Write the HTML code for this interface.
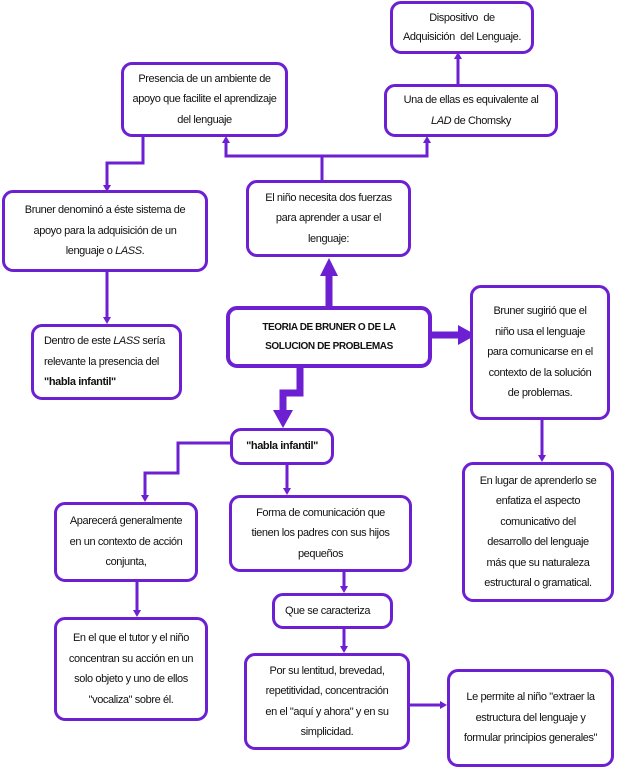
<!DOCTYPE html>
<html><head><meta charset="utf-8"><style>
body{margin:0;width:618px;height:770px;background:#fff;position:relative;overflow:hidden;font-family:"Liberation Sans",sans-serif;}
.b{position:absolute;box-sizing:border-box;border:3px solid #6d1fd2;border-radius:11px;background:#fff;display:flex;align-items:center;justify-content:center;text-align:center;font-size:11px;line-height:20.5px;color:#111;letter-spacing:-0.4px;padding:2px 6px;}
.b>span{display:block;width:100%;}
svg{position:absolute;left:0;top:0;}
i{font-style:italic}
</style></head><body>
<svg width="618" height="770">
<g stroke="#6d1fd2" stroke-width="3" fill="none">
<path d="M458 84V56"/>
<path d="M322 180V156H226V140M322 156H427V140"/>
<path d="M143 137V163H107V188"/>
<path d="M107 272V320"/>
<path d="M542 420V458"/>
<path d="M230 443H178V473H145V498"/>
<path d="M287 465V491"/>
<path d="M137 582V613"/>
<path d="M344 572V589"/>
<path d="M344 629V649"/>
<path d="M410 705H443"/>
</g>
<g fill="#6d1fd2">
<path d="M458 52l-4 7h8z"/>
<path d="M226 136l-4 7h8z"/><path d="M427 136l-4 7h8z"/>
<path d="M107 192l-4-7h8z"/>
<path d="M107 324l-4-7h8z"/>
<path d="M542 462l-4-7h8z"/>
<path d="M145 502l-4-7h8z"/>
<path d="M287 495l-4-7h8z"/>
<path d="M137 617l-4-7h8z"/>
<path d="M344 593l-4-7h8z"/><path d="M344 653l-4-7h8z"/>
<path d="M447 705l-7-4v8z"/>
</g>
<g stroke="#6d1fd2" stroke-width="7" fill="none">
<path d="M329 307V275"/>
<path d="M432 335H458"/>
<path d="M300 368V393H283V410"/>
</g>
<g fill="#6d1fd2">
<path d="M329 258l-9 18h18z"/>
<path d="M476 335l-18-10v20z"/>
<path d="M283 428l-10-18h20z"/>
</g>
</svg>
<div class="b" style="left:390px;top:1px;width:144px;height:53px;line-height:19px"><span>Dispositivo &nbsp;de<br>Adquisición &nbsp;del Lenguaje.</span></div>
<div class="b" style="left:121px;top:62px;width:167px;height:75px"><span>Presencia de un ambiente de apoyo que facilite el aprendizaje del lenguaje</span></div>
<div class="b" style="left:384px;top:84px;width:174px;height:53px"><span>Una de ellas es equivalente al<br><i>LAD</i>&nbsp;de Chomsky</span></div>
<div class="b" style="left:2px;top:190px;width:206px;height:82px;padding:2px 12px"><span>Bruner denominó a éste sistema de apoyo para la adquisición de un lenguaje o <i>LASS</i>.</span></div>
<div class="b" style="left:246px;top:180px;width:165px;height:77px;padding:2px 12px"><span>El niño necesita dos fuerzas para aprender a usar el lenguaje:</span></div>
<div class="b" style="left:31px;top:324px;width:151px;height:76px;text-align:left;padding-left:10px"><span>Dentro de este <i>LASS</i>&nbsp;sería relevante la presencia del <b>"habla infantil"</b></span></div>
<div class="b" style="left:226px;top:306px;width:206px;height:62px;border-width:4px;font-weight:bold;font-size:10px;line-height:19px;padding:2px 12px"><span>TEORIA DE BRUNER O DE LA SOLUCION DE PROBLEMAS</span></div>
<div class="b" style="left:470px;top:285px;width:140px;height:135px;padding:2px 14px"><span>Bruner sugirió que el niño usa el lenguaje para comunicarse en el contexto de la solución de problemas.</span></div>
<div class="b" style="left:230px;top:428px;width:104px;height:37px;font-weight:bold"><span>"habla infantil"</span></div>
<div class="b" style="left:54px;top:502px;width:144px;height:80px;padding:2px 8px"><span>Aparecerá generalmente en un contexto de acción conjunta,</span></div>
<div class="b" style="left:229px;top:495px;width:183px;height:77px;padding:2px 16px"><span>Forma de comunicación que tienen los padres con sus hijos pequeños</span></div>
<div class="b" style="left:462px;top:462px;width:152px;height:140px;padding:2px 12px"><span>En lugar de aprenderlo se enfatiza el aspecto comunicativo del desarrollo del lenguaje más que su naturaleza estructural o gramatical.</span></div>
<div class="b" style="left:272px;top:593px;width:121px;height:36px;text-align:left;padding-left:10px"><span>Que se caracteriza</span></div>
<div class="b" style="left:54px;top:617px;width:154px;height:104px;padding:2px 10px"><span>En el que el tutor y el niño concentran su acción en un solo objeto y uno de ellos "vocaliza" sobre él.</span></div>
<div class="b" style="left:244px;top:653px;width:166px;height:97px;padding:2px 12px"><span>Por su lentitud, brevedad, repetitividad, concentración en el "aquí y ahora" y en su simplicidad.</span></div>
<div class="b" style="left:447px;top:669px;width:167px;height:98px;padding:2px 12px"><span>Le permite al niño "extraer la estructura del lenguaje y formular principios generales"</span></div>
</body></html>
